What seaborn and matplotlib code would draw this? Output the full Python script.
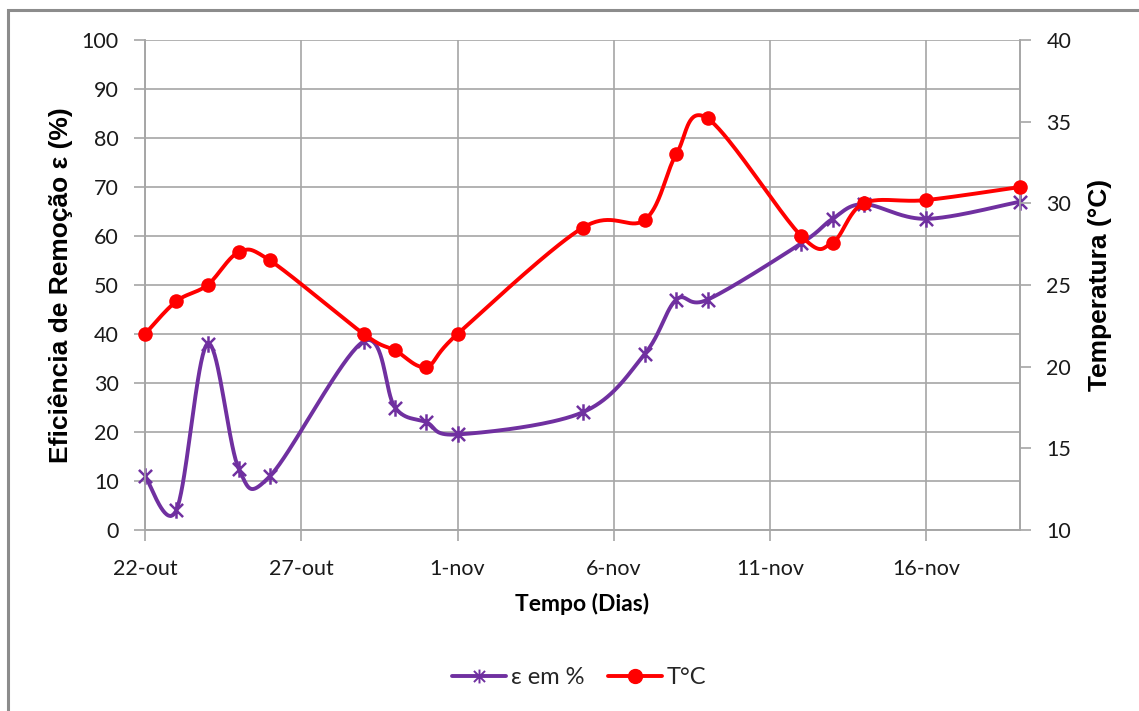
import numpy as np
import pandas as pd
import seaborn as sns
import matplotlib
matplotlib.use("Agg")
import matplotlib.pyplot as plt
from matplotlib.path import Path
from matplotlib.lines import Line2D
from matplotlib.patches import Rectangle

# Sampling dates (2012, Oct-Nov)
datas = ["2012-10-22", "2012-10-23", "2012-10-24", "2012-10-25", "2012-10-26",
         "2012-10-29", "2012-10-30", "2012-10-31", "2012-11-01", "2012-11-05",
         "2012-11-07", "2012-11-08", "2012-11-09", "2012-11-12", "2012-11-13",
         "2012-11-14", "2012-11-16", "2012-11-19"]
# Removal efficiency (%)
eficiencia = [11, 4, 38, 12.5, 11, 38.5, 25, 22, 19.5, 24, 36, 47, 47, 58.5,
              63.5, 66.5, 63.5, 67]
# Temperature (°C)
temperatura = [22, 24, 25, 27, 26.5, 22, 21, 20, 22, 28.5, 29, 33, 35.2, 28,
               27.6, 30, 30.2, 31]

tick_days = [0, 5, 10, 15, 20, 25]
tick_labels = ["22-out", "27-out", "1-nov", "6-nov", "11-nov", "16-nov"]

inicio = pd.Timestamp(datas[0])
dias = np.array([(pd.Timestamp(d) - inicio).days for d in datas], dtype=float)

ROXO = "#7030A0"
VERMELHO = "#FF0000"
CINZA = "#A6A6A6"
LW = 2.8


def suavizar(x, y, n=40):
    """Smooth curve through points using Catmull-Rom style cubic Bezier segments."""
    pts = np.column_stack([x, y]).astype(float)
    P = np.vstack([pts[0], pts, pts[-1]])
    xs, ys = [], []
    t = np.linspace(0, 1, n)[:, None]
    for i in range(len(pts) - 1):
        p0, p1, p2, p3 = P[i], P[i + 1], P[i + 2], P[i + 3]
        c1 = p1 + (p2 - p0) / 6.0
        c2 = p2 - (p3 - p1) / 6.0
        seg = ((1 - t) ** 3) * p1 + 3 * ((1 - t) ** 2) * t * c1 \
            + 3 * (1 - t) * t ** 2 * c2 + t ** 3 * p2
        xs.append(seg[:, 0])
        ys.append(seg[:, 1])
    return np.concatenate(xs), np.concatenate(ys)


# Asterisk marker: vertical bar plus an X
asterisco = Path(
    [(0, -1), (0, 1), (-0.8, -0.8), (0.8, 0.8), (-0.8, 0.8), (0.8, -0.8)],
    [Path.MOVETO, Path.LINETO, Path.MOVETO, Path.LINETO, Path.MOVETO, Path.LINETO],
)

sns.set_theme(style="white")
plt.rcParams["font.family"] = ["Lato", "DejaVu Sans"]

fig = plt.figure(figsize=(11.39, 7.11), dpi=100)
fig.patch.set_facecolor("white")
ax = fig.add_axes([145 / 1139, (711 - 530) / 711, (1020 - 145) / 1139, 490 / 711])
ax2 = ax.twinx()

# Outer chart frame
fig.add_artist(Rectangle((8 / 1139, -0.2), 1.5, 1.2 - 10 / 711,
                         transform=fig.transFigure, fill=False,
                         edgecolor="#8C8C8C", linewidth=2.2, zorder=0))

# Axes limits, ticks and gridlines
ax.set_xlim(0, 28)
ax.set_ylim(0, 100)
ax2.set_ylim(10, 40)
ax.set_xticks(tick_days)
ax.set_xticklabels(tick_labels)
ax.set_yticks(np.arange(0, 101, 10))
ax2.set_yticks(np.arange(10, 41, 5))
ax.grid(True, color=CINZA, linewidth=1.2)
ax.set_axisbelow(True)

# Efficiency series
sx, sy = suavizar(dias, eficiencia)
df_e = pd.DataFrame({"dia": sx, "valor": sy})
sns.lineplot(data=df_e, x="dia", y="valor", ax=ax, color=ROXO, linewidth=LW,
             sort=False, estimator=None, zorder=3)
sns.scatterplot(x=dias, y=eficiencia, ax=ax, marker=asterisco, s=140,
                color=ROXO, edgecolor=ROXO, linewidth=1.8, zorder=4,
                clip_on=False)

# Temperature series
tx, ty = suavizar(dias, temperatura)
df_t = pd.DataFrame({"dia": tx, "valor": ty})
sns.lineplot(data=df_t, x="dia", y="valor", ax=ax2, color=VERMELHO,
             linewidth=LW, sort=False, estimator=None, zorder=3)
sns.scatterplot(x=dias, y=temperatura, ax=ax2, marker="o", s=110,
                color=VERMELHO, edgecolor=VERMELHO, linewidth=0, zorder=4,
                clip_on=False)

for a in (ax, ax2):
    for s in a.spines.values():
        s.set_color(CINZA)
        s.set_linewidth(1.2)
    a.spines["top"].set_visible(False)

ax.tick_params(axis="both", which="major", length=8, width=1.2, color=CINZA,
               labelsize=15.5, labelcolor="#1a1a1a", direction="out")
ax.tick_params(axis="y", pad=11, left=True)
ax.tick_params(axis="x", pad=13, bottom=True)
ax2.tick_params(axis="y", length=8, width=1.2, color=CINZA, labelsize=15.5,
                labelcolor="#1a1a1a", pad=11, right=True, direction="out")

ax.set_xlabel("Tempo (Dias)", fontsize=16.5, fontweight="bold",
              family="Lato", labelpad=10, color="black")
ax.set_ylabel("Eficiência de Remoção ε (%)", fontsize=19, fontweight="bold",
              family="Liberation Sans", labelpad=6, color="black")
ax2.set_ylabel("Temperatura (°C)", fontsize=19, fontweight="bold",
               family="Liberation Sans", labelpad=12, color="black")

handles = [
    Line2D([], [], color=ROXO, linewidth=LW, marker=asterisco, markersize=10,
           markeredgewidth=1.4, label="ε em %"),
    Line2D([], [], color=VERMELHO, linewidth=LW, marker="o", markersize=10,
           label="T°C"),
]
fig.legend(handles=handles, loc="center", bbox_to_anchor=(579 / 1139, 1 - 678 / 711),
           ncol=2, frameon=False, handlelength=2.3,
           columnspacing=1.0, handletextpad=0.2,
           prop={"family": "Lato", "size": 17})

fig.savefig("out.png", dpi=100, facecolor="white")
